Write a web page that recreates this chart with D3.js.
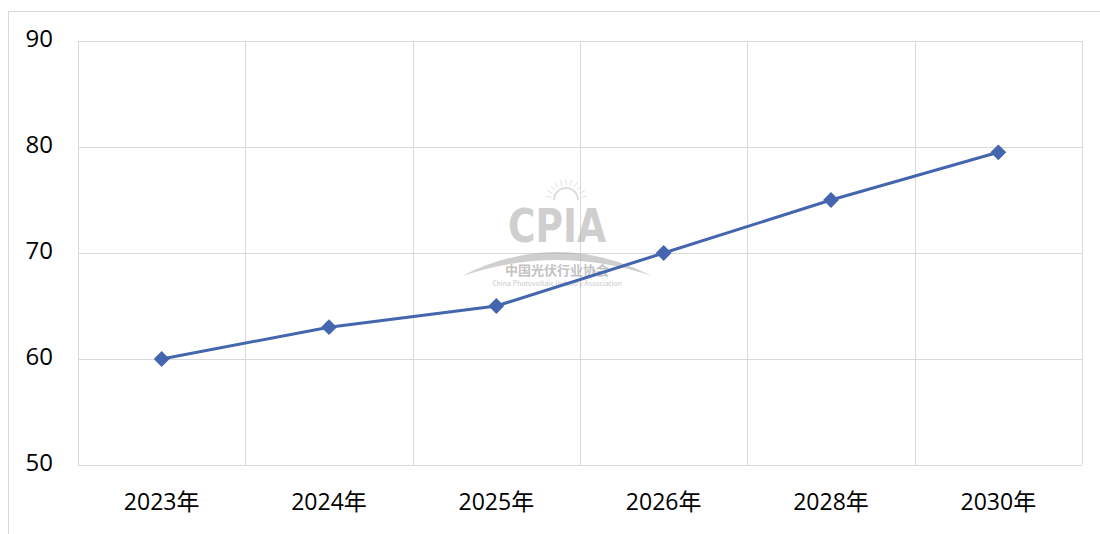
<!DOCTYPE html>
<html><head><meta charset="utf-8">
<script src="https://cdn.jsdelivr.net/npm/d3@7/dist/d3.min.js"></script>
<style>body{margin:0;background:#fff;}svg{display:block;}</style>
</head><body>
<svg id="c" width="1100" height="534"></svg>
<script>
const categories = ["2023年","2024年","2025年","2026年","2028年","2030年"];
const values = [60, 63, 65, 70, 75, 79.5];
const yTicks = [50, 60, 70, 80, 90];

const svg = d3.select("#c");
const font = "'Open Sans','Noto Sans CJK SC',sans-serif";
const cjk = "'Noto Sans CJK SC',sans-serif";
const m = {l:78, r:1082, t:41, b:465};

svg.append("rect").attr("x",8.5).attr("y",11.5).attr("width",1200).attr("height",600)
  .attr("fill","none").attr("stroke","#d9d9d9").attr("stroke-width",1);

const x = d3.scaleBand().domain(categories).range([m.l, m.r]).padding(0);
const y = d3.scaleLinear().domain([50, 90]).range([m.b, m.t]);

// horizontal grid
svg.append("g").selectAll("line").data(yTicks).join("line")
  .attr("x1", m.l).attr("x2", m.r)
  .attr("y1", d => Math.round(y(d))+0.5).attr("y2", d => Math.round(y(d))+0.5)
  .attr("stroke","#d9d9d9").attr("stroke-width",1);
// vertical grid at band boundaries
const bounds = categories.map(c => x(c)).concat([m.r]);
svg.append("g").selectAll("line").data(bounds).join("line")
  .attr("x1", d => Math.round(d)+0.5).attr("x2", d => Math.round(d)+0.5)
  .attr("y1", m.t).attr("y2", m.b)
  .attr("stroke","#d9d9d9").attr("stroke-width",1);

// watermark
const wm = svg.append("g").attr("opacity",0.6);
wm.append("path").attr("d","M462,276 Q557,228 652,276 Q557,244 462,276 Z").attr("fill","#b0b0b0");
wm.append("path").attr("d","M554,200 A12,12 0 0 1 578,200").attr("fill","none").attr("stroke","#c8c8c8").attr("stroke-width",2);
const rays = d3.range(-80, 81, 16);
wm.append("g").selectAll("line").data(rays).join("line")
  .attr("x1", d => 566 + 15*Math.sin(d*Math.PI/180)).attr("y1", d => 200 - 15*Math.cos(d*Math.PI/180))
  .attr("x2", d => 566 + 21*Math.sin(d*Math.PI/180)).attr("y2", d => 200 - 21*Math.cos(d*Math.PI/180))
  .attr("stroke","#d0d0d0").attr("stroke-width",1);
wm.append("text").attr("x",557).attr("y",242).attr("text-anchor","middle")
  .attr("font-family","'DejaVu Sans Condensed','DejaVu Sans',sans-serif").attr("font-weight","bold").attr("font-size",46)
  .attr("fill","#b0b0b0").attr("textLength",98).attr("lengthAdjust","spacingAndGlyphs").text("CPIA");
wm.append("text").attr("x",557).attr("y",275).attr("text-anchor","middle")
  .attr("font-family",cjk).attr("font-weight","bold").attr("font-size",13).attr("fill","#9a9a9a").text("中国光伏行业协会");
wm.append("text").attr("x",557).attr("y",286).attr("text-anchor","middle")
  .attr("font-family",cjk).attr("font-size",7).attr("fill","#a8a8a8").text("China Photovoltaic Industry Association");

// y axis labels
const yAxis = d3.axisLeft(y).tickValues(yTicks).tickSize(0).tickPadding(0);
const gy = svg.append("g").attr("transform","translate(53,-2)").call(yAxis);
gy.select(".domain").remove();
gy.selectAll("text").attr("font-family",font).attr("font-size",24).attr("fill","#000");

// x axis labels
const xAxis = d3.axisBottom(x).tickSize(0).tickPadding(0);
const gx = svg.append("g").attr("transform","translate(0,494)").call(xAxis);
gx.select(".domain").remove();
gx.selectAll("text").attr("font-family",font).attr("font-size",23).attr("fill","#000");

// line
const cx = d => x(d) + x.bandwidth()/2;
const line = d3.line().x((d,i) => cx(categories[i])).y(d => y(d));
svg.append("path").datum(values).attr("d", line).attr("fill","none")
  .attr("stroke","#4466ae").attr("stroke-width",3).attr("stroke-linejoin","round");

svg.append("g").selectAll("path").data(values).join("path")
  .attr("d", d3.symbol().type(d3.symbolDiamond2).size(160))
  .attr("transform",(d,i)=>`translate(${cx(categories[i])},${y(d)})`)
  .attr("fill","#4466ae");
</script>
</body></html>
